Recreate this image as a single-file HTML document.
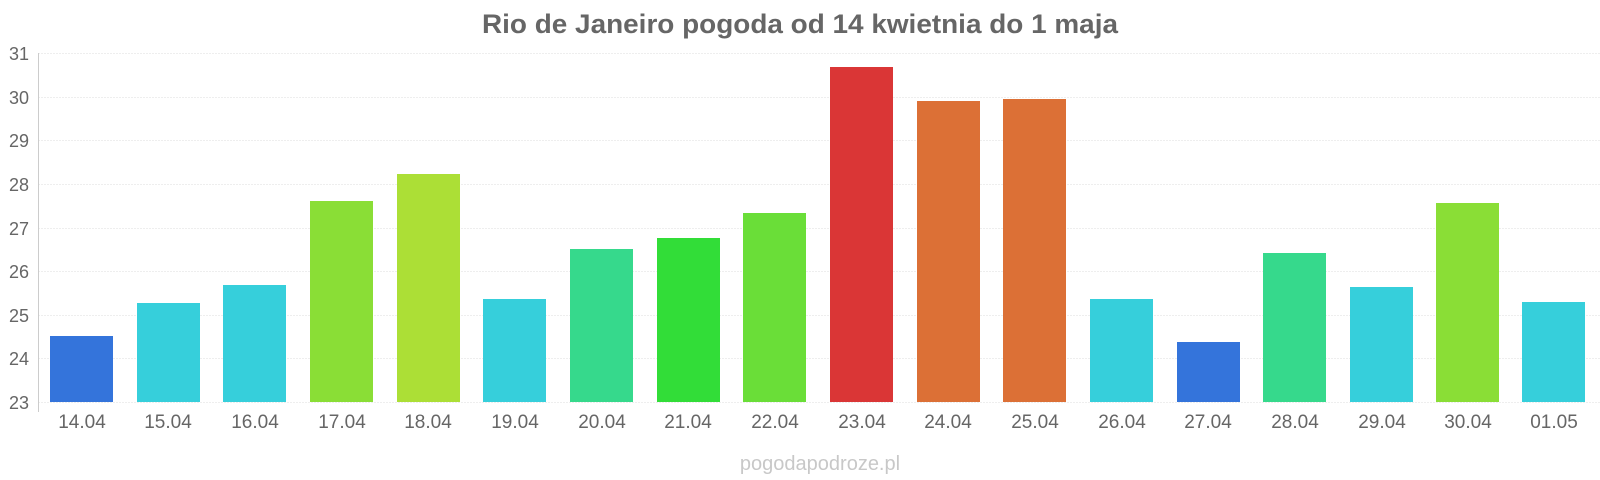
<!DOCTYPE html>
<html><head><meta charset="utf-8"><style>html,body{margin:0;padding:0;background:#fff}svg{display:block}</style></head>
<body>
<svg width="1600" height="480" xmlns="http://www.w3.org/2000/svg" font-family="Liberation Sans, Arial, sans-serif">
<text x="800" y="33" text-anchor="middle" font-size="27" font-weight="bold" fill="#666" textLength="636" lengthAdjust="spacingAndGlyphs">Rio de Janeiro pogoda od 14 kwietnia do 1 maja</text>
<g stroke="#eeeeee" stroke-width="1" stroke-dasharray="2,1">
<line x1="38" x2="1600" y1="53.5" y2="53.5"/><line x1="38" x2="1600" y1="97.5" y2="97.5"/><line x1="38" x2="1600" y1="140.5" y2="140.5"/><line x1="38" x2="1600" y1="184.5" y2="184.5"/><line x1="38" x2="1600" y1="228.5" y2="228.5"/><line x1="38" x2="1600" y1="271.5" y2="271.5"/><line x1="38" x2="1600" y1="315.5" y2="315.5"/><line x1="38" x2="1600" y1="358.5" y2="358.5"/><line x1="38" x2="1600" y1="402.5" y2="402.5"/>
</g>
<line x1="38.5" x2="38.5" y1="53" y2="412" stroke="#ccc"/>
<g font-size="18" fill="#666" text-anchor="end">
<text x="29" y="60">31</text><text x="29" y="104">30</text><text x="29" y="147">29</text><text x="29" y="191">28</text><text x="29" y="235">27</text><text x="29" y="278">26</text><text x="29" y="322">25</text><text x="29" y="365">24</text><text x="29" y="409">23</text>
</g>
<g>
<rect x="50" y="336" width="63" height="66" fill="#3474db"/>
<rect x="137" y="303" width="63" height="99" fill="#36cfdb"/>
<rect x="223" y="285" width="63" height="117" fill="#36cfdb"/>
<rect x="310" y="201" width="63" height="201" fill="#8ade36"/>
<rect x="397" y="174" width="63" height="228" fill="#acdf36"/>
<rect x="483" y="299" width="63" height="103" fill="#36cfdb"/>
<rect x="570" y="249" width="63" height="153" fill="#36d98c"/>
<rect x="657" y="238" width="63" height="164" fill="#32dd38"/>
<rect x="743" y="213" width="63" height="189" fill="#6ade38"/>
<rect x="830" y="67" width="63" height="335" fill="#da3636"/>
<rect x="917" y="101" width="63" height="301" fill="#dc7036"/>
<rect x="1003" y="99" width="63" height="303" fill="#dc7036"/>
<rect x="1090" y="299" width="63" height="103" fill="#36cfdb"/>
<rect x="1177" y="342" width="63" height="60" fill="#3474db"/>
<rect x="1263" y="253" width="63" height="149" fill="#36d98c"/>
<rect x="1350" y="287" width="63" height="115" fill="#36cfdb"/>
<rect x="1436" y="203" width="63" height="199" fill="#8ade36"/>
<rect x="1522" y="302" width="63" height="100" fill="#36cfdb"/>
</g>
<g font-size="19" fill="#666" text-anchor="middle">
<text x="82" y="428">14.04</text><text x="168" y="428">15.04</text><text x="255" y="428">16.04</text><text x="342" y="428">17.04</text><text x="428" y="428">18.04</text><text x="515" y="428">19.04</text><text x="602" y="428">20.04</text><text x="688" y="428">21.04</text><text x="775" y="428">22.04</text><text x="862" y="428">23.04</text><text x="948" y="428">24.04</text><text x="1035" y="428">25.04</text><text x="1122" y="428">26.04</text><text x="1208" y="428">27.04</text><text x="1295" y="428">28.04</text><text x="1382" y="428">29.04</text><text x="1468" y="428">30.04</text><text x="1554" y="428">01.05</text>
</g>
<text x="820" y="470" text-anchor="middle" font-size="20" fill="#c8c8c8">pogodapodroze.pl</text>
</svg>
</body></html>
